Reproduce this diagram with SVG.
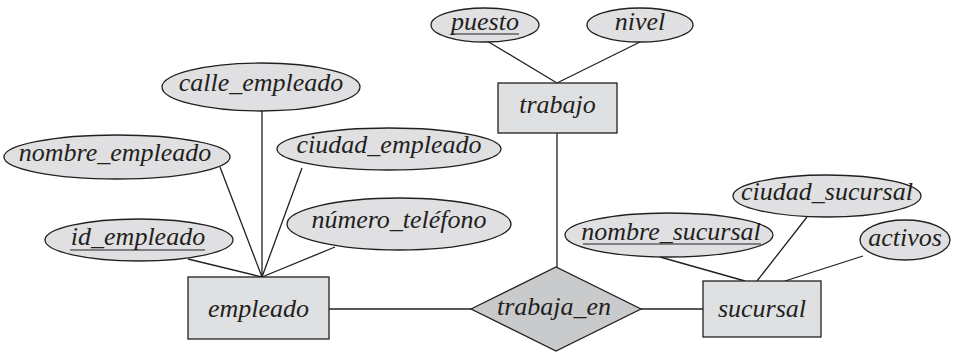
<svg xmlns="http://www.w3.org/2000/svg" width="958" height="352" viewBox="0 0 958 352">
<style>
  .attr { fill: #e0e0e2; stroke: #231f20; stroke-width: 1.3; }
  .ent { fill: #dfe0e2; stroke: #231f20; stroke-width: 1.3; }
  .rel { fill: #c9cacc; stroke: #231f20; stroke-width: 1.3; }
  .conn line { stroke: #231f20; stroke-width: 1.3; }
  .ul { stroke: #231f20; stroke-width: 1.1; }
  text { font-family: "Liberation Serif", "Times New Roman", serif; font-style: italic; font-size: 26px; fill: #231f20; text-anchor: middle; }
</style>
<rect width="958" height="352" fill="#ffffff"/>
<g id="connectors" class="conn">
  <line x1="487" y1="41" x2="557" y2="83"/>
  <line x1="640" y1="42" x2="557" y2="83"/>
  <line x1="557" y1="133" x2="557" y2="267"/>
  <line x1="262" y1="111" x2="262" y2="277"/>
  <line x1="220" y1="167" x2="262" y2="277"/>
  <line x1="302" y1="168" x2="262" y2="277"/>
  <line x1="188" y1="259" x2="262" y2="277"/>
  <line x1="335" y1="247" x2="262" y2="277"/>
  <line x1="329" y1="309" x2="471" y2="309"/>
  <line x1="641" y1="309" x2="703" y2="309"/>
  <line x1="660" y1="257" x2="745" y2="281"/>
  <line x1="807" y1="217" x2="757" y2="281"/>
  <line x1="863" y1="256" x2="785" y2="281"/>
</g>
<g id="puesto"><ellipse class="attr" cx="485" cy="25" rx="54" ry="17"/><text x="485" y="30">puesto</text><line class="ul" x1="451" y1="34" x2="519" y2="34"/></g>
<g id="nivel"><ellipse class="attr" cx="640" cy="25" rx="53" ry="17"/><text x="640" y="30">nivel</text></g>
<g id="trabajo"><rect class="ent" x="498" y="83" width="119" height="50"/><text x="557.5" y="113">trabajo</text></g>
<g id="calle_empleado"><ellipse class="attr" cx="261" cy="87" rx="99" ry="24"/><text x="261" y="91">calle_empleado</text></g>
<g id="nombre_empleado"><ellipse class="attr" cx="117" cy="157" rx="113" ry="22"/><text x="115" y="161">nombre_empleado</text></g>
<g id="ciudad_empleado"><ellipse class="attr" cx="389" cy="149" rx="112" ry="21"/><text x="389" y="153">ciudad_empleado</text></g>
<g id="id_empleado"><ellipse class="attr" cx="139" cy="240" rx="94" ry="21"/><text x="138" y="245">id_empleado</text><line class="ul" x1="70" y1="250" x2="205" y2="250"/></g>
<g id="numero_telefono"><ellipse class="attr" cx="399" cy="224" rx="112" ry="26"/><text x="399" y="228">número_teléfono</text></g>
<g id="empleado"><rect class="ent" x="188" y="277" width="141" height="62"/><text x="258.5" y="317">empleado</text></g>
<g id="trabaja_en"><polygon class="rel" points="471,309 556,267 641,309 556,351"/><text x="554" y="315">trabaja_en</text></g>
<g id="sucursal"><rect class="ent" x="703" y="281" width="118" height="56"/><text x="762" y="317">sucursal</text></g>
<g id="ciudad_sucursal"><ellipse class="attr" cx="827" cy="196" rx="94" ry="21"/><text x="827" y="200">ciudad_sucursal</text></g>
<g id="nombre_sucursal"><ellipse class="attr" cx="669" cy="235" rx="104" ry="22"/><text x="671" y="240">nombre_sucursal</text><line class="ul" x1="583" y1="244" x2="761" y2="244"/></g>
<g id="activos"><ellipse class="attr" cx="905" cy="240" rx="45" ry="20"/><text x="905" y="246">activos</text></g>
</svg>
